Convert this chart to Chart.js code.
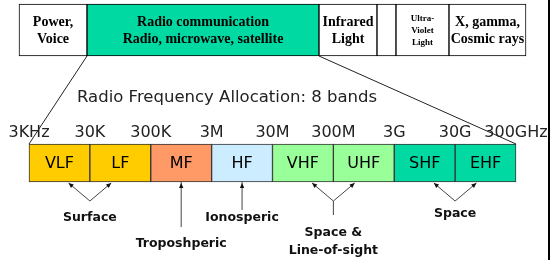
<!DOCTYPE html>
<html>
<head>
<meta charset="utf-8">
<script src="https://cdn.jsdelivr.net/npm/chart.js@4.4.1/dist/chart.umd.min.js"></script>
<style>
  html, body { margin: 0; padding: 0; background: #fff; }
  #wrap { position: relative; width: 557px; height: 260px; }
  #edge { position: absolute; left: 548px; top: 0; width: 2px; height: 260px; background: #000; }
</style>
</head>
<body>
<div id="wrap">
  <canvas id="chart" width="557" height="260"></canvas>
  <div id="edge"></div>
</div>
<script>
// Radio bands, one decade of frequency each
const bandNames = ['VLF', 'LF', 'MF', 'HF', 'VHF', 'UHF', 'SHF', 'EHF'];
const bandColors = ['#FFCC00', '#FFCC00', '#FF9966', '#CCECFF', '#99FF99', '#99FF99', '#00D9A1', '#00D9A1'];
const tickLabels = ['3KHz', '30K', '300K', '3M', '30M', '300M', '3G', '30G', '300GHz'];

// Whole spectrum (top row), relative widths of the boxes
const spectrumNames = ['Power,\nVoice', 'Radio communication\nRadio, microwave, satellite', 'Infrared\nLight', '', 'Ultra-\nViolet\nLight', 'X, gamma,\nCosmic rays'];
const spectrumEdges = [0, 68, 300, 358, 377, 430, 507];
const spectrumColors = ['#FFFFFF', '#00D9A1', '#FFFFFF', '#FFFFFF', '#FFFFFF', '#FFFFFF'];

// Propagation modes and the bands they use
const modeNames = ['Surface', 'Troposhperic', 'Ionosperic', 'Space &\nLine-of-sight', 'Space'];
const modeBands = [[0, 1], [2], [3], [4, 5], [6, 7]];

const heading = 'Radio Frequency Allocation: 8 bands';
const rowLabels = ['Spectrum', 'Bands'];

// layout of the notes under the bands (px below the band row)
const modeLayout = [
  { vee: 19, stem: 0, text: 39 },
  { vee: 0, stem: 45, text: 65 },
  { vee: 0, stem: 28, text: 39 },
  { vee: 19, stem: 14, text: 54 },
  { vee: 19, stem: 0, text: 35 }
];
const spread = 0.35;

function arrowHead(ctx, tx, ty, fx, fy) {
  const a = Math.atan2(ty - fy, tx - fx);
  ctx.beginPath();
  ctx.moveTo(tx, ty);
  ctx.lineTo(tx - 5 * Math.cos(a) + 2.2 * Math.sin(a), ty - 5 * Math.sin(a) - 2.2 * Math.cos(a));
  ctx.lineTo(tx - 5 * Math.cos(a) - 2.2 * Math.sin(a), ty - 5 * Math.sin(a) + 2.2 * Math.cos(a));
  ctx.closePath();
  ctx.fill();
}

const drawExtras = {
  id: 'drawExtras',
  afterDatasetsDraw(chart) {
    const ctx = chart.ctx;
    const xs = chart.scales.x;
    const top = chart.getDatasetMeta(0).data;
    const bands = chart.getDatasetMeta(1).data;
    ctx.save();
    ctx.fillStyle = '#000';
    ctx.textAlign = 'center';
    ctx.textBaseline = 'middle';

    // texts of the top row
    top.forEach((bar, i) => {
      const lines = spectrumNames[i].split('\n');
      const small = lines.length > 2;
      const lh = small ? 12 : 17;
      ctx.font = 'bold ' + (small ? 9 : 14) + 'px "Liberation Serif"';
      const cx = (bar.x + bar.base) / 2;
      lines.forEach((t, k) => ctx.fillText(t, cx, bar.y + (k - (lines.length - 1) / 2) * lh + 1));
    });

    // band names
    ctx.font = '16px "DejaVu Sans"';
    bands.forEach((bar, i) => ctx.fillText(bandNames[i], (bar.x + bar.base) / 2, bar.y + 1));

    // zoom lines from radio box to the band row
    const radio = top[1];
    const first = bands[0];
    const last = bands[bands.length - 1];
    ctx.strokeStyle = '#222';
    ctx.lineWidth = 1;
    ctx.beginPath();
    ctx.moveTo(radio.base, radio.y + radio.height / 2);
    ctx.lineTo(first.base, first.y - first.height / 2);
    ctx.moveTo(radio.x, radio.y + radio.height / 2);
    ctx.lineTo(last.x, last.y - last.height / 2);
    ctx.stroke();

    // heading
    ctx.fillStyle = '#222';
    ctx.textAlign = 'left';
    ctx.textBaseline = 'alphabetic';
    ctx.font = '16.5px "DejaVu Sans"';
    ctx.fillText(heading, 77, 102);

    // propagation notes
    const bottom = first.y + first.height / 2;
    ctx.strokeStyle = '#444';
    ctx.fillStyle = '#111';
    modeNames.forEach((name, i) => {
      const b = modeBands[i];
      const lay = modeLayout[i];
      const vx = b.length === 2 ? b[1] : b[0] + 0.5;
      const tips = b.length === 2 ? [b[1] - spread, b[1] + spread] : [vx];
      const px = xs.getPixelForValue(vx);
      const vy = bottom + lay.vee;
      ctx.beginPath();
      tips.forEach(t => {
        if (lay.vee) { ctx.moveTo(xs.getPixelForValue(t), bottom + 1); ctx.lineTo(px, vy); }
      });
      if (lay.stem) { ctx.moveTo(px, vy); ctx.lineTo(px, vy + lay.stem); }
      ctx.stroke();
      tips.forEach(t => {
        const tx = xs.getPixelForValue(t);
        if (lay.vee) arrowHead(ctx, tx, bottom + 1, px, vy);
        else arrowHead(ctx, tx, bottom + 1, px, vy + lay.stem);
      });
      ctx.font = 'bold 12.5px "DejaVu Sans"';
      ctx.textAlign = 'center';
      name.split('\n').forEach((t, k) => ctx.fillText(t, px, bottom + lay.text + k * 18));
    });
    ctx.restore();
  }
};

Chart.defaults.font.family = '"DejaVu Sans"';

new Chart(document.getElementById('chart'), {
  type: 'bar',
  data: {
    labels: rowLabels,
    datasets: [{
      label: 'Spectrum',
      xAxisID: 'xTop',
      stack: 'row',
      clip: false,
      data: spectrumNames.map((n, i) => ({ y: rowLabels[0], x: [spectrumEdges[i], spectrumEdges[i + 1]] })),
      backgroundColor: spectrumColors,
      borderColor: '#000',
      borderWidth: 1,
      borderSkipped: false,
      barThickness: 52
    }, {
      label: 'Bands',
      xAxisID: 'x',
      stack: 'row',
      clip: false,
      data: bandNames.map((n, i) => ({ y: rowLabels[1], x: [i, i + 1] })),
      backgroundColor: bandColors,
      borderColor: '#333',
      borderWidth: 1,
      borderSkipped: false,
      barThickness: 38
    }]
  },
  options: {
    indexAxis: 'y',
    responsive: false,
    animation: false,
    layout: { padding: { left: 29, right: 41, top: 30, bottom: 55 } },
    plugins: { legend: { display: false }, tooltip: { enabled: false }, title: { display: false } },
    scales: {
      y: { type: 'category', offset: false, display: false, grid: { display: false } },
      x: {
        type: 'linear', position: 'bottom', min: 0, max: 8,
        grid: { display: false, drawTicks: false },
        border: { display: false },
        ticks: {
          stepSize: 1, mirror: true, padding: 21, autoSkip: false, maxRotation: 0,
          color: '#222', font: { size: 16 },
          callback: value => tickLabels[value]
        },
        // labels may hang past the band row, the layout padding already leaves room
        afterFit: scale => { scale.paddingLeft = 0; scale.paddingRight = 0; }
      },
      xTop: { type: 'linear', axis: 'x', display: false, min: 10, max: 497 }
    }
  },
  plugins: [drawExtras]
});
</script>
</body>
</html>
